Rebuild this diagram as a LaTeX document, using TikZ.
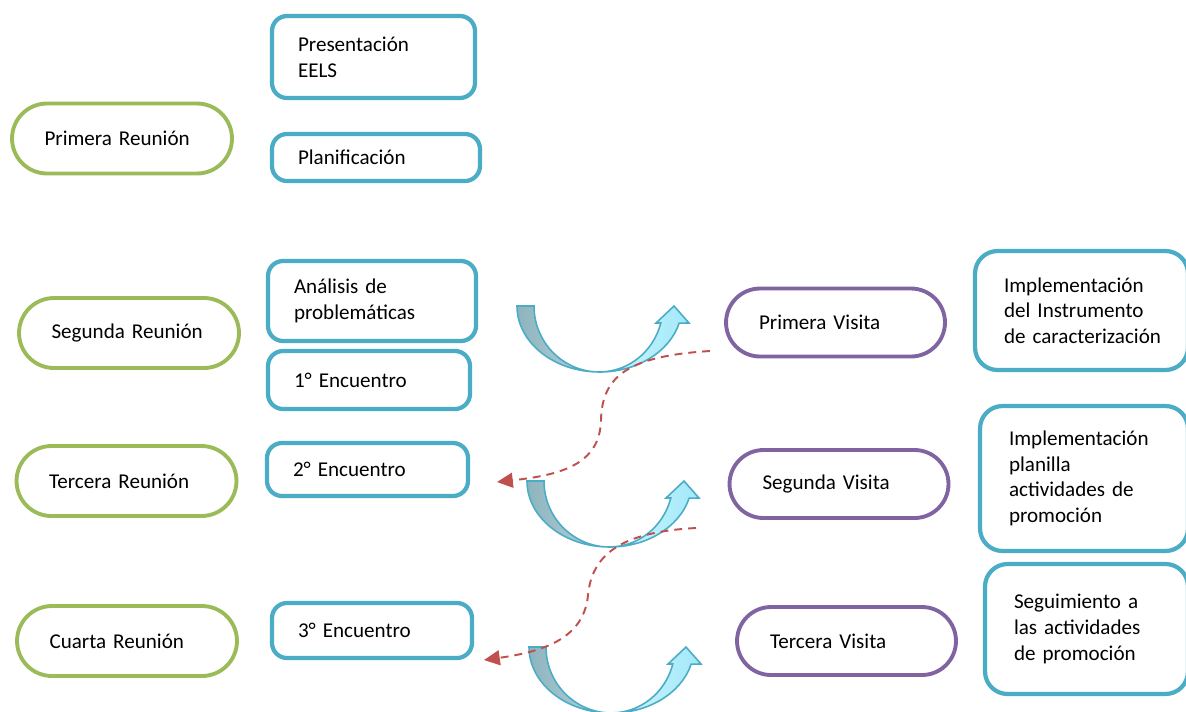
\documentclass[tikz,border=0pt]{standalone}
\usepackage{fontspec}
\setmainfont{Carlito}
\usetikzlibrary{arrows.meta}
\definecolor{verde}{HTML}{9BBB59}
\definecolor{celeste}{HTML}{4BACC6}
\definecolor{morado}{HTML}{8064A2}
\definecolor{rojo}{HTML}{C0504D}
\definecolor{grisazul}{HTML}{8DB4BE}
\definecolor{grisclaro}{HTML}{BCD5DA}
\definecolor{cian}{HTML}{A2E8F9}
\definecolor{cianclaro}{HTML}{D2F6FD}

\begin{document}
\begin{tikzpicture}
[x=0.02cm,y=-0.02cm,
 texto/.style={font=\fontsize{12}{14.6}\selectfont,align=left,inner ysep=0pt},
 reunion/.style={texto,draw=verde,line width=2.2pt,rounded corners=0.7cm,
   minimum height=1.4cm,text width=3.1cm,inner xsep=0.65cm},
 paso/.style={texto,draw=celeste,line width=2.4pt,rounded corners=0.3cm,inner xsep=0.52cm},
 visita/.style={texto,draw=morado,line width=2.2pt,rounded corners=0.68cm,
   minimum height=1.36cm,text width=3.06cm,inner xsep=0.66cm},
 accion/.style={texto,draw=celeste,line width=2.4pt,rounded corners=0.45cm,inner xsep=0.58cm},
 vuelta/.style={draw=rojo,line width=1.1pt,dash pattern=on 4.5pt off 3.4pt,
   -{Triangle[length=9pt,width=8.5pt]}},
 cola/.style={draw=celeste,line width=0.9pt,left color=grisazul,right color=grisclaro},
 frente/.style={draw=celeste,line width=0.9pt,left color=cianclaro,right color=cian}]

  \useasboundingbox (0,0) rectangle (1186,711);

  % reuniones
  \node[reunion] (r1) at (122,138.5) {Primera Reunión};
  \node[reunion] (r2) at (129,333)   {Segunda Reunión};
  \node[reunion] (r3) at (126.5,481) {Tercera Reunión};
  \node[reunion] (r4) at (127,641)   {Cuarta Reunión};

  % pasos de cada reunion
  \node[paso,text width=3.02cm,minimum height=1.64cm] (p1) at (373.5,57)  {Presentación\\EELS};
  \node[paso,text width=3.12cm,minimum height=0.94cm] (p2) at (376,157.5) {Planificación};
  \node[paso,text width=3.12cm,minimum height=1.6cm]  (p3) at (372,301)   {Análisis de\\problemáticas};
  \node[paso,text width=3.0cm,minimum height=1.16cm]  (p4) at (369,380)   {1° Encuentro};
  \node[paso,text width=2.98cm,minimum height=1.06cm] (p5) at (367.5,469.5) {2° Encuentro};
  \node[paso,text width=2.96cm,minimum height=1.1cm]  (p6) at (372,630.5) {3° Encuentro};

  % visitas
  \node[visita] (v1) at (835.5,322.5) {Primera Visita};
  \node[visita] (v2) at (839,484)     {Segunda Visita};
  \node[visita] (v3) at (846.5,641)   {Tercera Visita};

  \node[accion,text width=3.1cm,minimum height=2.38cm] (a1) at (1081.5,310.5)
    {Implementación\\del Instrumento\\\mbox{de caracterización}};
  \node[accion,text width=3.0cm,minimum height=2.9cm]  (a2) at (1084,478.5)
    {Implementación\\planilla\\actividades de\\promoción};
  \node[accion,text width=2.9cm,minimum height=2.6cm]  (a3) at (1086.5,629)
    {Seguimiento a\\las actividades\\de promoción};

  % flechas curvas
  \foreach \cx/\cy in {599.5/306,609.5/481,611.5/647}{
    \begin{scope}[shift={(\cx,\cy)}]
      \path[cola] (-82.5,0)
        arc[start angle=180,end angle=270,x radius=1.65cm,y radius=1.32cm]
        arc[start angle=270,end angle=180,x radius=1.31cm,y radius=1.32cm] -- cycle;
      \path[frente] (0,66)
        arc[start angle=270,end angle=345,x radius=1.65cm,y radius=1.32cm]
        -- (89.5,17) -- (74.5,0) -- (56.5,17) -- (61.3,17)
        arc[start angle=345,end angle=270,x radius=1.27cm,y radius=1.32cm] -- cycle;
    \end{scope}
  }

  % retornos
  \coordinate (s1) at (710,351);
  \coordinate (e1) at (497,482);
  \coordinate (s2) at (696,528);
  \coordinate (e2) at (484,660);
  \draw[vuelta] (s1) .. controls (630,356) and (602,375) .. (601,420)
    .. controls (600,465) and (560,475) .. (e1);
  \draw[vuelta] (s2) .. controls (620,532) and (592,555) .. (588,595)
    .. controls (584,640) and (540,652) .. (e2);
\end{tikzpicture}
\end{document}
